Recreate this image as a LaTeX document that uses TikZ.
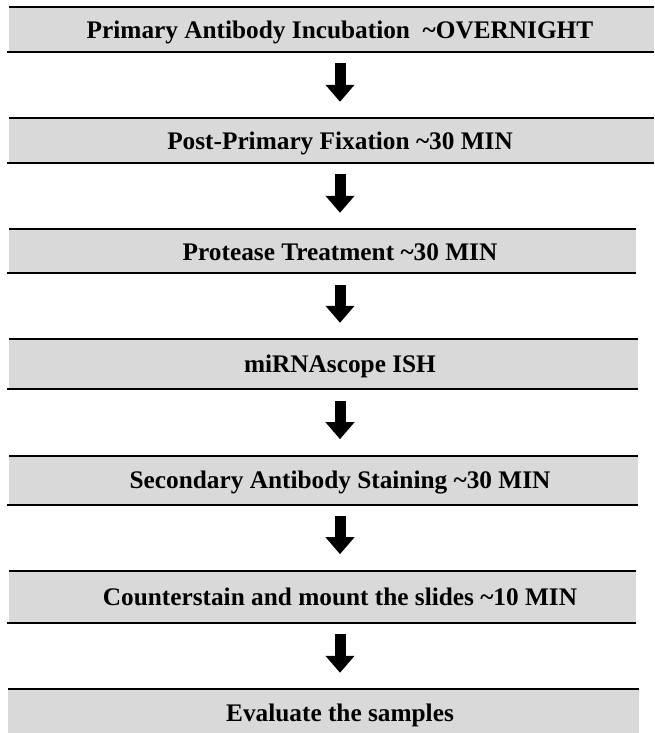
\documentclass[tikz,border=0pt]{standalone}
\usepackage{fontspec}
\setmainfont{Liberation Serif}
\usetikzlibrary{arrows.meta}
\definecolor{boxgray}{HTML}{D9D9D9}
\tikzset{
  stepbox/.style={fill=boxgray, draw=none, inner sep=0pt, outer sep=0pt, anchor=north west},
  lbl/.style={font=\bfseries\fontsize{25.3}{28}\selectfont, anchor=base, inner sep=0pt, outer sep=0pt},
  rule/.style={line width=2pt},
  flowarrow/.style={line width=11pt, line cap=butt, -{Triangle[width=28pt,length=17pt]}, shorten <=11.5pt, shorten >=16.5pt}
}
\begin{document}
\begin{tikzpicture}[x=1pt,y=-1pt]
\useasboundingbox (0,0) rectangle (654,733);
% boxes
\node[stepbox, minimum width=645pt, minimum height=44.4pt] (b1) at (9,7.3) {};
\node[stepbox, minimum width=645pt, minimum height=44.4pt] (b2) at (9,118.3) {};
\node[stepbox, minimum width=627pt, minimum height=44pt] (b3) at (9,229.3) {};
\node[stepbox, minimum width=629pt, minimum height=49.7pt] (b4) at (9,339.3) {};
\node[stepbox, minimum width=629pt, minimum height=49pt] (b5) at (9,455.7) {};
\node[stepbox, minimum width=627pt, minimum height=52pt] (b6) at (9,570.7) {};
\node[stepbox, minimum width=631pt, minimum height=50pt] (b7) at (8,689.3) {};
% rules
\foreach \b in {b1,b2,b3,b4,b5,b6,b7}{
  \draw[rule] (\b.north west) -- (\b.north east);
}
\foreach \b in {b1,b2,b3,b4,b5,b6}{
  \draw[rule] ([xshift=-2pt]\b.south west) -- (\b.south east);
}
% labels
\node[lbl] (t1) at (340,38.3) {Primary Antibody Incubation\ \ \textasciitilde OVERNIGHT};
\node[lbl] (t2) at (340,149.2) {Post-Primary Fixation \textasciitilde 30 MIN};
\node[lbl] (t3) at (340,260) {Protease Treatment \textasciitilde 30 MIN};
\node[lbl] (t4) at (340,372.8) {miRNAscope ISH};
\node[lbl] (t5) at (340,488.8) {Secondary Antibody Staining \textasciitilde 30 MIN};
\node[lbl] (t6) at (340,605.3) {Counterstain and mount the slides \textasciitilde 10 MIN};
\node[lbl] (t7) at (340,721.7) {Evaluate the samples};
% arrows
\draw[flowarrow] (t1 |- b1.south) -- (t2 |- b2.north);
\draw[flowarrow] (t2 |- b2.south) -- (t3 |- b3.north);
\draw[flowarrow] (t3 |- b3.south) -- (t4 |- b4.north);
\draw[flowarrow] (t4 |- b4.south) -- (t5 |- b5.north);
\draw[flowarrow] (t5 |- b5.south) -- (t6 |- b6.north);
\draw[flowarrow] (t6 |- b6.south) -- (t7 |- b7.north);
\end{tikzpicture}
\end{document}
